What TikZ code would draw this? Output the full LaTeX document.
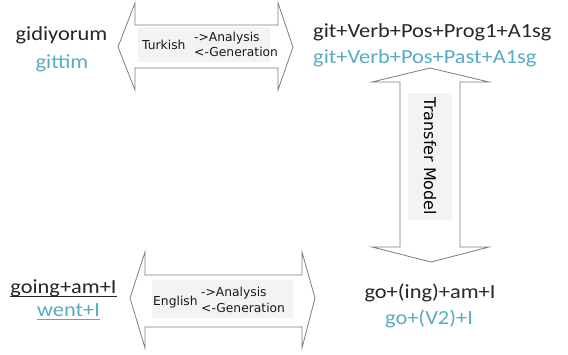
\documentclass[tikz,border=0pt]{standalone}
\usepackage{fontspec}
\usepackage{xcolor}
\usepackage{tikz}
\usetikzlibrary{positioning}
\newfontfamily\wordfont[FakeStretch=1.12]{Carlito}
\newfontfamily\tagfont{DejaVu Sans}
\definecolor{gentext}{RGB}{86,172,192}
\definecolor{arrowline}{RGB}{125,125,125}
\definecolor{tagback}{RGB}{243,243,243}

\begin{document}
\begin{tikzpicture}[x=1pt,y=-1pt,
    word/.style={font=\wordfont\fontsize{20}{24}\selectfont, text=black!85, inner sep=0pt, anchor=base},
    genword/.style={word, text=gentext},
    tag/.style={font=\tagfont\fontsize{12.3}{14}\selectfont, text=black!90, inner sep=0pt, anchor=base west},
    tagbox/.style={fill=tagback, inner sep=0pt},
    bigarrow/.style={draw=arrowline, fill=white, line width=0.8pt, line join=miter}]
    \useasboundingbox (0,0) rectangle (568,354);

    % block arrows
    \draw[bigarrow] (118,47) -- (135,3) -- (135,25) -- (278,25) -- (278,3) -- (293,47)
        -- (278,90) -- (278,68) -- (135,68) -- (135,90) -- cycle;
    \draw[bigarrow] (130,298) -- (145,252) -- (145,275) -- (302,275) -- (302,252) -- (315,298)
        -- (302,348) -- (302,327) -- (145,327) -- (145,348) -- cycle;
    \draw[bigarrow] (430,68) -- (489,82) -- (460,82) -- (460,247) -- (489,247) -- (431,262)
        -- (372,247) -- (400,247) -- (400,82) -- (372,82) -- cycle;

    % label boxes inside the arrows
    \node[tagbox, minimum width=132pt, minimum height=35pt] (trbox) at (204,44.5) {};
    \node[tag] (trlang) at (142,49) {Turkish};
    \node[tag] (trana) at (194,41.5) {->Analysis};
    \node[tag] (trgen) at (194,56.5) {<-Generation};

    \node[tagbox, minimum width=141pt, minimum height=38pt] (enbox) at (222.5,299) {};
    \node[tag] (enlang) at (153,305) {English};
    \node[tag] (enana) at (201,296.5) {->Analysis};
    \node[tag] (engen) at (201,312.5) {<-Generation};

    \node[tagbox, rotate=-90, minimum width=127pt, minimum height=44pt,
          font=\tagfont\fontsize{16}{18}\selectfont] (tmodel) at (430,156.5) {Transfer Model};

    % Turkish side
    \node[word] (trsurf) at (61.5,40) {gidiyorum};
    \node[genword] (trsurfgen) at (62,68) {gittim};
    \node[word, anchor=base west] (trmorph) at (313,37) {git+Verb+Pos+Prog1+A1sg};
    \node[genword, anchor=base west] (trmorphgen) at (313,63) {git+Verb+Pos+Past+A1sg};

    % English side
    \node[word] (ensurf) at (63.5,293) {going+am+I};
    \node[genword] (ensurfgen) at (68.5,316) {went+I};
    \draw[black!85, line width=1pt] ([yshift=-3pt]ensurf.base west) -- ([yshift=-3pt]ensurf.base east);
    \draw[gentext, line width=1pt] ([yshift=-3pt]ensurfgen.base west) -- ([yshift=-3pt]ensurfgen.base east);
    \node[word] (enmorph) at (430,298) {go+(ing)+am+I};
    \node[genword] (enmorphgen) at (429,324) {go+(V2)+I};
\end{tikzpicture}
\end{document}
